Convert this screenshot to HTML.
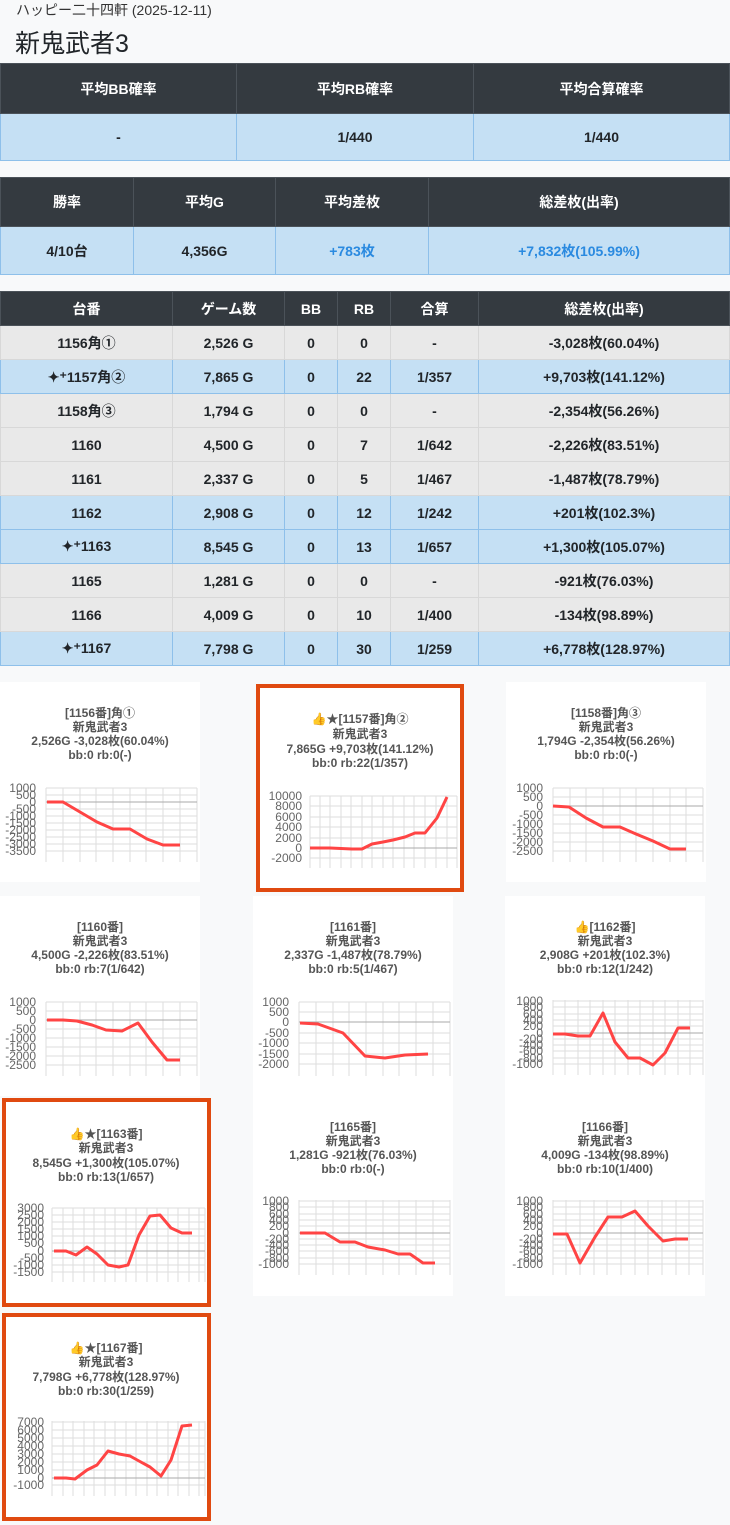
<!DOCTYPE html>
<html><head><meta charset="utf-8"><style>
*{box-sizing:border-box;margin:0;padding:0}
body{width:730px;height:1525px;background:#f8f9fa;font-family:"Liberation Sans","Noto Sans CJK JP",sans-serif;color:#212529;position:relative;overflow:hidden}
.t1{position:absolute;left:16px;top:0;font-size:14px;color:#333}
.t2{position:absolute;left:15px;top:24px;font-size:25px;color:#212529}
table{position:absolute;left:0;width:730px;border-collapse:collapse;font-weight:bold;font-size:14px;text-align:center}
th{background:#343a40;color:#fff;border:1px solid #4b5259}
td{border:1px solid #8ec0ea;background:#c5e0f4}
td.g{background:#e9e9e9;border-color:#d8d8d8}
.b{color:#2a8ae0}
svg{position:absolute;left:0;top:0}
svg text{font-family:"Liberation Sans","Noto Sans CJK JP",sans-serif}
.ct{font-size:12px;font-weight:bold;fill:#555;text-anchor:middle}
.ax{font-size:12px;fill:#666;text-anchor:end}
.gr{stroke:#ddd;stroke-width:1;fill:none}
.ln{stroke:#f44;stroke-width:3;fill:none;stroke-linejoin:round}
</style></head><body>
<div class="t1">ハッピー二十四軒 (2025-12-11)</div>
<div class="t2">新鬼武者3</div>
<table style="top:63px"><tr style="height:50px"><th style="width:236px">平均BB確率</th><th style="width:237px">平均RB確率</th><th>平均合算確率</th></tr>
<tr style="height:47px"><td>-</td><td>1/440</td><td>1/440</td></tr></table>
<table style="top:177px"><tr style="height:49px"><th style="width:133px">勝率</th><th style="width:142px">平均G</th><th style="width:153px">平均差枚</th><th>総差枚(出率)</th></tr>
<tr style="height:48px"><td>4/10台</td><td>4,356G</td><td class="b">+783枚</td><td class="b">+7,832枚(105.99%)</td></tr></table>
<table style="top:291px"><tr style="height:34px"><th style="width:172px">台番</th><th style="width:112px">ゲーム数</th><th style="width:53px">BB</th><th style="width:53px">RB</th><th style="width:88px">合算</th><th>総差枚(出率)</th></tr>
<tr style="height:34px"><td class="g">1156角①</td><td class="g">2,526 G</td><td class="g">0</td><td class="g">0</td><td class="g">-</td><td class="g">-3,028枚(60.04%)</td></tr>
<tr style="height:34px"><td>✦⁺1157角②</td><td>7,865 G</td><td>0</td><td>22</td><td>1/357</td><td>+9,703枚(141.12%)</td></tr>
<tr style="height:34px"><td class="g">1158角③</td><td class="g">1,794 G</td><td class="g">0</td><td class="g">0</td><td class="g">-</td><td class="g">-2,354枚(56.26%)</td></tr>
<tr style="height:34px"><td class="g">1160</td><td class="g">4,500 G</td><td class="g">0</td><td class="g">7</td><td class="g">1/642</td><td class="g">-2,226枚(83.51%)</td></tr>
<tr style="height:34px"><td class="g">1161</td><td class="g">2,337 G</td><td class="g">0</td><td class="g">5</td><td class="g">1/467</td><td class="g">-1,487枚(78.79%)</td></tr>
<tr style="height:34px"><td>1162</td><td>2,908 G</td><td>0</td><td>12</td><td>1/242</td><td>+201枚(102.3%)</td></tr>
<tr style="height:34px"><td>✦⁺1163</td><td>8,545 G</td><td>0</td><td>13</td><td>1/657</td><td>+1,300枚(105.07%)</td></tr>
<tr style="height:34px"><td class="g">1165</td><td class="g">1,281 G</td><td class="g">0</td><td class="g">0</td><td class="g">-</td><td class="g">-921枚(76.03%)</td></tr>
<tr style="height:34px"><td class="g">1166</td><td class="g">4,009 G</td><td class="g">0</td><td class="g">10</td><td class="g">1/400</td><td class="g">-134枚(98.89%)</td></tr>
<tr style="height:34px"><td>✦⁺1167</td><td>7,798 G</td><td>0</td><td>30</td><td>1/259</td><td>+6,778枚(128.97%)</td></tr>
</table>
<svg width="730" height="1525" viewBox="0 0 730 1525">
<!-- card backgrounds -->
<rect x="0" y="682" width="200" height="200" fill="#fff"/>
<rect x="258" y="686" width="204" height="204" fill="#fff" stroke="#e04a10" stroke-width="4"/>
<rect x="506" y="682" width="200" height="200" fill="#fff"/>
<rect x="0" y="896" width="200" height="200" fill="#fff"/>
<rect x="253" y="896" width="200" height="200" fill="#fff"/>
<rect x="505" y="896" width="200" height="200" fill="#fff"/>
<rect x="4" y="1100" width="205" height="205" fill="#fff" stroke="#e04a10" stroke-width="4"/>
<rect x="253" y="1096" width="200" height="200" fill="#fff"/>
<rect x="505" y="1096" width="200" height="200" fill="#fff"/>
<rect x="4" y="1315" width="205" height="204" fill="#fff" stroke="#e04a10" stroke-width="4"/>

<!-- 1156 -->
<text class="ct" x="100" y="717">[1156番]角①</text><text class="ct" x="100" y="731">新鬼武者3</text><text class="ct" x="100" y="745">2,526G -3,028枚(60.04%)</text><text class="ct" x="100" y="759">bb:0 rb:0(-)</text>
<path class="gr" d="M46 788V862M63 788V862M80 788V862M96 788V862M113 788V862M130 788V862M146 788V862M163 788V862M180 788V862M197 788V862M46 788H197M46 795H197M46 809H197M46 816H197M46 823H197M46 830H197M46 837H197M46 844H197M46 851H197"/>
<path d="M46 802H197" stroke="#aaa"/>
<g class="ax"><text x="36" y="792">1000</text><text x="36" y="799">500</text><text x="36" y="806">0</text><text x="36" y="813">-500</text><text x="36" y="820">-1000</text><text x="36" y="827">-1500</text><text x="36" y="834">-2000</text><text x="36" y="841">-2500</text><text x="36" y="848">-3000</text><text x="36" y="855">-3500</text></g>
<polyline class="ln" points="47,802 63,802 80,812 97,822 113,829 130,829 147,839 163,845 180,845"/>

<!-- 1157 -->
<text class="ct" x="360" y="723">👍★[1157番]角②</text><text class="ct" x="360" y="738">新鬼武者3</text><text class="ct" x="360" y="753">7,865G +9,703枚(141.12%)</text><text class="ct" x="360" y="767">bb:0 rb:22(1/357)</text>
<path class="gr" d="M310 796V868M320 796V868M330 796V868M341 796V868M351 796V868M362 796V868M372 796V868M383 796V868M393 796V868M404 796V868M414 796V868M425 796V868M436 796V868M447 796V868M457 796V868M310 796H457M310 806H457M310 817H457M310 827H457M310 838H457M310 858H457"/>
<path d="M310 848H457" stroke="#aaa"/>
<g class="ax"><text x="302" y="800">10000</text><text x="302" y="810">8000</text><text x="302" y="821">6000</text><text x="302" y="831">4000</text><text x="302" y="842">2000</text><text x="302" y="852">0</text><text x="302" y="862">-2000</text></g>
<polyline class="ln" points="310,848 330,848 352,849 362,849 372,844 383,842 393,840 405,837 415,833 425,833 437,818 447,797"/>

<!-- 1158 -->
<text class="ct" x="606" y="717">[1158番]角③</text><text class="ct" x="606" y="731">新鬼武者3</text><text class="ct" x="606" y="745">1,794G -2,354枚(56.26%)</text><text class="ct" x="606" y="759">bb:0 rb:0(-)</text>
<path class="gr" d="M553 788V862M570 788V862M586 788V862M603 788V862M620 788V862M636 788V862M653 788V862M670 788V862M686 788V862M703 788V862M553 788H703M553 797H703M553 815H703M553 824H703M553 833H703M553 842H703M553 851H703"/>
<path d="M553 806H703" stroke="#aaa"/>
<g class="ax"><text x="543" y="792">1000</text><text x="543" y="801">500</text><text x="543" y="810">0</text><text x="543" y="819">-500</text><text x="543" y="828">-1000</text><text x="543" y="837">-1500</text><text x="543" y="846">-2000</text><text x="543" y="855">-2500</text></g>
<polyline class="ln" points="553,806 569,807 586,818 603,827 620,827 636,834 653,841 670,849 686,849"/>

<!-- 1160 -->
<text class="ct" x="100" y="931">[1160番]</text><text class="ct" x="100" y="945">新鬼武者3</text><text class="ct" x="100" y="959">4,500G -2,226枚(83.51%)</text><text class="ct" x="100" y="973">bb:0 rb:7(1/642)</text>
<path class="gr" d="M46 1002V1076M63 1002V1076M80 1002V1076M96 1002V1076M113 1002V1076M130 1002V1076M146 1002V1076M163 1002V1076M180 1002V1076M197 1002V1076M46 1002H197M46 1011H197M46 1029H197M46 1038H197M46 1047H197M46 1056H197M46 1065H197"/>
<path d="M46 1020H197" stroke="#aaa"/>
<g class="ax"><text x="36" y="1006">1000</text><text x="36" y="1015">500</text><text x="36" y="1024">0</text><text x="36" y="1033">-500</text><text x="36" y="1042">-1000</text><text x="36" y="1051">-1500</text><text x="36" y="1060">-2000</text><text x="36" y="1069">-2500</text></g>
<polyline class="ln" points="47,1020 63,1020 77,1021 92,1025 106,1030 122,1031 138,1023 152,1042 167,1060 180,1060"/>

<!-- 1161 -->
<text class="ct" x="353" y="931">[1161番]</text><text class="ct" x="353" y="945">新鬼武者3</text><text class="ct" x="353" y="959">2,337G -1,487枚(78.79%)</text><text class="ct" x="353" y="973">bb:0 rb:5(1/467)</text>
<path class="gr" d="M299 1002V1076M316 1002V1076M333 1002V1076M349 1002V1076M366 1002V1076M383 1002V1076M399 1002V1076M416 1002V1076M433 1002V1076M450 1002V1076M299 1002H450M299 1012H450M299 1033H450M299 1043H450M299 1054H450M299 1064H450"/>
<path d="M299 1022H450" stroke="#aaa"/>
<g class="ax"><text x="289" y="1006">1000</text><text x="289" y="1016">500</text><text x="289" y="1026">0</text><text x="289" y="1037">-500</text><text x="289" y="1047">-1000</text><text x="289" y="1058">-1500</text><text x="289" y="1068">-2000</text></g>
<polyline class="ln" points="300,1023 318,1024 343,1033 365,1056 385,1058 405,1055 428,1054"/>

<!-- 1162 -->
<text class="ct" x="605" y="931">👍[1162番]</text><text class="ct" x="605" y="945">新鬼武者3</text><text class="ct" x="605" y="959">2,908G +201枚(102.3%)</text><text class="ct" x="605" y="973">bb:0 rb:12(1/242)</text>
<path class="gr" d="M553 1000V1075M565 1000V1075M578 1000V1075M590 1000V1075M603 1000V1075M615 1000V1075M628 1000V1075M640 1000V1075M653 1000V1075M665 1000V1075M678 1000V1075M690 1000V1075M703 1000V1075M553 1001H703M553 1007H703M553 1014H703M553 1020H703M553 1026H703M553 1039H703M553 1045H703M553 1051H703M553 1058H703M553 1064H703"/>
<path d="M553 1033H703" stroke="#aaa"/>
<g class="ax"><text x="543" y="1005">1000</text><text x="543" y="1011">800</text><text x="543" y="1018">600</text><text x="543" y="1024">400</text><text x="543" y="1030">200</text><text x="543" y="1037">0</text><text x="543" y="1043">-200</text><text x="543" y="1049">-400</text><text x="543" y="1055">-600</text><text x="543" y="1062">-800</text><text x="543" y="1068">-1000</text></g>
<polyline class="ln" points="553,1034 565,1034 578,1036 590,1036 603,1013 615,1042 628,1058 640,1058 653,1065 665,1053 678,1028 690,1028"/>

<!-- 1163 -->
<text class="ct" x="106" y="1138">👍★[1163番]</text><text class="ct" x="106" y="1152">新鬼武者3</text><text class="ct" x="106" y="1167">8,545G +1,300枚(105.07%)</text><text class="ct" x="106" y="1181">bb:0 rb:13(1/657)</text>
<path class="gr" d="M52 1208V1282M63 1208V1282M73 1208V1282M84 1208V1282M94 1208V1282M105 1208V1282M115 1208V1282M126 1208V1282M136 1208V1282M147 1208V1282M157 1208V1282M168 1208V1282M178 1208V1282M189 1208V1282M199 1208V1282M205 1208V1282M52 1208H205M52 1215H205M52 1222H205M52 1229H205M52 1236H205M52 1243H205M52 1258H205M52 1265H205M52 1272H205"/>
<path d="M52 1251H205" stroke="#aaa"/>
<g class="ax"><text x="44" y="1212">3000</text><text x="44" y="1219">2500</text><text x="44" y="1226">2000</text><text x="44" y="1233">1500</text><text x="44" y="1240">1000</text><text x="44" y="1247">500</text><text x="44" y="1255">0</text><text x="44" y="1262">-500</text><text x="44" y="1269">-1000</text><text x="44" y="1276">-1500</text></g>
<polyline class="ln" points="54,1251 66,1251 76,1255 87,1247 97,1254 108,1265 119,1267 128,1265 139,1235 150,1216 160,1215 171,1228 182,1233 192,1233"/>

<!-- 1165 -->
<text class="ct" x="353" y="1131">[1165番]</text><text class="ct" x="353" y="1145">新鬼武者3</text><text class="ct" x="353" y="1159">1,281G -921枚(76.03%)</text><text class="ct" x="353" y="1173">bb:0 rb:0(-)</text>
<path class="gr" d="M299 1200V1275M316 1200V1275M333 1200V1275M349 1200V1275M366 1200V1275M383 1200V1275M399 1200V1275M416 1200V1275M433 1200V1275M450 1200V1275M299 1201H450M299 1207H450M299 1214H450M299 1220H450M299 1226H450M299 1239H450M299 1245H450M299 1251H450M299 1258H450M299 1264H450"/>
<path d="M299 1233H450" stroke="#aaa"/>
<g class="ax"><text x="289" y="1205">1000</text><text x="289" y="1211">800</text><text x="289" y="1218">600</text><text x="289" y="1224">400</text><text x="289" y="1230">200</text><text x="289" y="1237">0</text><text x="289" y="1243">-200</text><text x="289" y="1249">-400</text><text x="289" y="1255">-600</text><text x="289" y="1262">-800</text><text x="289" y="1268">-1000</text></g>
<polyline class="ln" points="300,1233 325,1233 340,1242 355,1242 368,1247 385,1250 398,1254 410,1254 423,1263 435,1263"/>

<!-- 1166 -->
<text class="ct" x="605" y="1131">[1166番]</text><text class="ct" x="605" y="1145">新鬼武者3</text><text class="ct" x="605" y="1159">4,009G -134枚(98.89%)</text><text class="ct" x="605" y="1173">bb:0 rb:10(1/400)</text>
<path class="gr" d="M553 1200V1275M566 1200V1275M580 1200V1275M594 1200V1275M607 1200V1275M621 1200V1275M635 1200V1275M648 1200V1275M662 1200V1275M676 1200V1275M689 1200V1275M703 1200V1275M553 1201H703M553 1207H703M553 1214H703M553 1220H703M553 1226H703M553 1239H703M553 1245H703M553 1251H703M553 1258H703M553 1264H703"/>
<path d="M553 1233H703" stroke="#aaa"/>
<g class="ax"><text x="543" y="1205">1000</text><text x="543" y="1211">800</text><text x="543" y="1218">600</text><text x="543" y="1224">400</text><text x="543" y="1230">200</text><text x="543" y="1237">0</text><text x="543" y="1243">-200</text><text x="543" y="1249">-400</text><text x="543" y="1255">-600</text><text x="543" y="1262">-800</text><text x="543" y="1268">-1000</text></g>
<polyline class="ln" points="553,1234 567,1234 580,1263 595,1237 608,1217 622,1217 635,1211 648,1226 663,1241 675,1239 688,1239"/>

<!-- 1167 -->
<text class="ct" x="106" y="1352">👍★[1167番]</text><text class="ct" x="106" y="1366">新鬼武者3</text><text class="ct" x="106" y="1381">7,798G +6,778枚(128.97%)</text><text class="ct" x="106" y="1395">bb:0 rb:30(1/259)</text>
<path class="gr" d="M52 1421V1496M63 1421V1496M73 1421V1496M84 1421V1496M94 1421V1496M105 1421V1496M115 1421V1496M126 1421V1496M136 1421V1496M147 1421V1496M157 1421V1496M168 1421V1496M178 1421V1496M189 1421V1496M199 1421V1496M205 1421V1496M52 1422H205M52 1430H205M52 1438H205M52 1446H205M52 1454H205M52 1462H205M52 1470H205M52 1485H205"/>
<path d="M52 1478H205" stroke="#aaa"/>
<g class="ax"><text x="44" y="1426">7000</text><text x="44" y="1434">6000</text><text x="44" y="1442">5000</text><text x="44" y="1450">4000</text><text x="44" y="1458">3000</text><text x="44" y="1466">2000</text><text x="44" y="1474">1000</text><text x="44" y="1482">0</text><text x="44" y="1489">-1000</text></g>
<polyline class="ln" points="54,1478 66,1478 75,1479 87,1470 97,1465 108,1451 119,1454 130,1456 139,1461 150,1467 161,1476 171,1460 182,1426 192,1425"/>
</svg>
</body></html>
